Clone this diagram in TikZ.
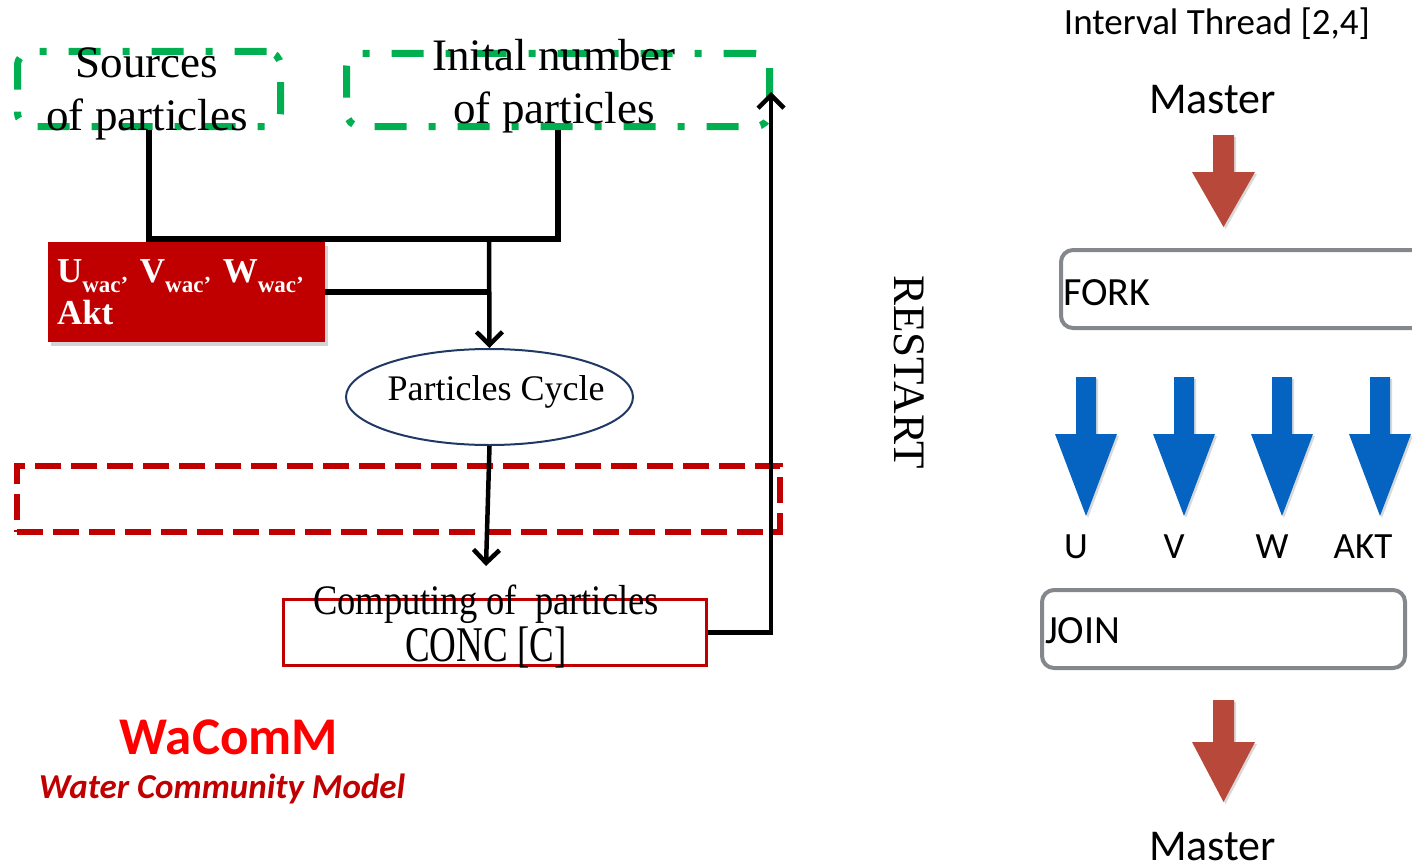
\documentclass[tikz,border=0pt]{standalone}
\usepackage{fontspec}
\setmainfont{Liberation Serif}
\newfontfamily\califont{Carlito}
\usetikzlibrary{arrows.meta}
\usetikzlibrary{positioning}
\usetikzlibrary{shapes.geometric}
\usetikzlibrary{shadows}
\definecolor{wacred}{RGB}{192,0,0}
\definecolor{wacgreen}{RGB}{0,176,80}
\definecolor{cyclenavy}{RGB}{31,56,100}
\definecolor{threadgray}{RGB}{132,136,140}
\definecolor{masterred}{RGB}{183,72,58}
\definecolor{threadblue}{RGB}{5,99,193}
\newcommand{\wac}{\raisebox{-10pt}{\fontsize{23}{23}\selectfont wac’}}
\tikzset{link/.style = {line width=5.5pt}}
\tikzset{flow/.style = {line width=4.5pt, -{Straight Barb[length=13pt, width=26pt]}}}
\tikzset{greenbox/.style = {draw=wacgreen, line width=7pt, rounded corners=14pt,
                            dash pattern=on 32pt off 22pt on 7pt off 22pt, inner sep=0}}
\tikzset{reddash/.style = {draw=wacred, line width=6pt, dash pattern=on 26pt off 10pt, inner sep=0}}
\tikzset{boxtext/.style = {font=\fontsize{45}{53}\selectfont, align=center, inner sep=0}}
\tikzset{uvwbox/.style = {fill=wacred, text=white, font=\bfseries\fontsize{35}{42}\selectfont,
                          text width=259pt, align=left, inner sep=9pt, minimum height=100pt,
                          drop shadow={shadow xshift=3pt, shadow yshift=-4pt, opacity=0.35}}}
\tikzset{cyclebox/.style = {ellipse, draw=cyclenavy, line width=2pt, inner sep=0,
                            minimum width=287pt, minimum height=96pt}}
\tikzset{concbox/.style = {draw=wacred, line width=3pt, inner sep=0}}
\tikzset{threadbox/.style = {draw=threadgray, line width=4pt, rounded corners=12pt, inner sep=0}}
\tikzset{thread/.style = {font=\califont\fontsize{37}{40}\selectfont, inner sep=0}}
\tikzset{masterarrow/.style = {fill=masterred, drop shadow={shadow xshift=2pt, shadow yshift=-2pt, opacity=0.3}}}
\tikzset{threadarrow/.style = {fill=threadblue, drop shadow={shadow xshift=2pt, shadow yshift=-2pt, opacity=0.3}}}

\begin{document}
\begin{tikzpicture}[x=1pt, y=-1pt]
  \useasboundingbox (0,0) rectangle (1412,867);

  \node [greenbox, minimum width=263, minimum height=75] (src) at (149, 89) {};
  \node [boxtext] (srclabel) at (147, 93.5) {Sources\\of particles};

  \node [greenbox, minimum width=423, minimum height=73] (init) at (558, 90) {};
  \node [boxtext] (initlabel) at (554, 86) {Inital number\\of particles};

  \node [uvwbox] (uvw) at (186.5, 292) {U\wac{} V\wac{} W\wac{}\\Akt};

  \node [cyclebox] (cycle) at (489.5, 397) {};
  \node [font=\fontsize{36}{36}\selectfont, anchor=base, inner sep=0] (cyclelabel) at (496, 400) {Particles Cycle};

  \node [reddash, minimum width=763, minimum height=66] (wrap) at (398.5, 499) {};

  \node [concbox, minimum width=423, minimum height=66] (conc) at (495, 632.5) {};
  \node [boxtext, font=\fontsize{36.5}{47}\selectfont] (conclabel) at (486, 626.5)
        {\scalebox{1}[1.15]{Computing of\ \ particles}\\\scalebox{1}[1.35]{\fontsize{37}{47}\selectfont CONC [C]}};

  \coordinate (split) at (489, 239);
  \coordinate (concin) at (486, 566);
  \coordinate (restart) at (771, 92);

  \draw [link] (src.south) |- (split) -| (init.south);
  \draw [link] (uvw.east) -- (uvw.east -| split);
  \draw [flow] (split) -- (cycle.north);
  \draw [flow] (cycle.south) -- (concin);
  \draw [flow] (conc.east) -| (restart);

  \node [rotate=-90, font=\fontsize{45}{45}\selectfont, inner sep=0] (restartlabel) at (909, 372) {RESTART};

  \node [font=\califont\bfseries\fontsize{53}{53}\selectfont, text=red, inner sep=0] (wacomm) at (229, 737) {WaComM};
  \node [font=\califont\bfseries\itshape\fontsize{35}{35}\selectfont, text=wacred, inner sep=0] (wacommsub) at (222, 789) {Water Community Model};

  \node [thread, anchor=base] (interval) at (1217, 35) {Interval Thread [2,4]};
  \node [thread, font=\califont\fontsize{44}{44}\selectfont, anchor=base] (mastertop) at (1212.5, 113) {Master};
  \fill [masterarrow] (1213,135) -- (1234,135) -- (1234,172) -- (1255,172) -- (1223.5,227) -- (1192,172) -- (1213,172) -- cycle;

  \node [threadbox, minimum width=370, minimum height=78, anchor=west] (fork) at (1059, 289) {};
  \node [thread, font=\califont\fontsize{40}{40}\selectfont, anchor=base west] (forklabel) at (1063, 305) {FORK};

  \foreach \x/\lx/\name in {1086/1076/U, 1184/1174/V, 1282/1272/W, 1380/1363/AKT} {
    \fill [threadarrow] (\x-10,377) -- (\x+10,377) -- (\x+10,434) -- (\x+31,434) -- (\x,516) -- (\x-31,434) -- (\x-10,434) -- cycle;
    \node [thread, anchor=base] (lab-\name) at (\lx, 558) {\name};
  }

  \node [threadbox, minimum width=363, minimum height=78] (join) at (1223.5, 629) {};
  \node [thread, font=\califont\fontsize{40}{40}\selectfont, anchor=base west] (joinlabel) at (1045, 643) {JOIN};

  \fill [masterarrow] (1213,700) -- (1234,700) -- (1234,742) -- (1255,742) -- (1223.5,802) -- (1192,742) -- (1213,742) -- cycle;
  \node [thread, font=\califont\fontsize{44}{44}\selectfont, anchor=base] (masterbottom) at (1212.5, 860) {Master};
\end{tikzpicture}
\end{document}
